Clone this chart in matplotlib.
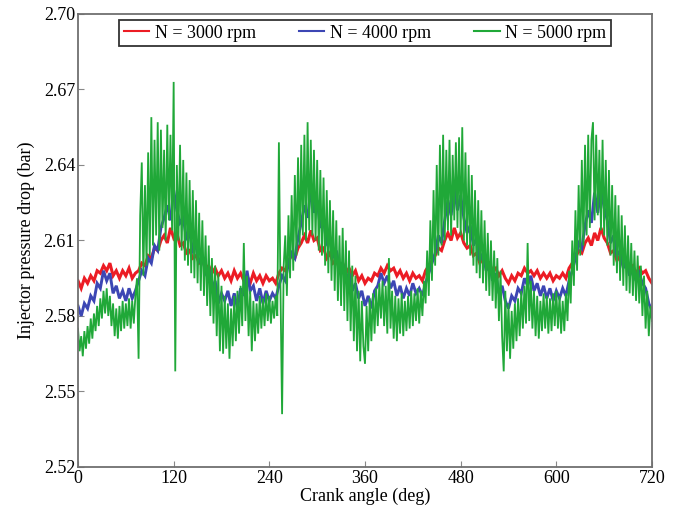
import numpy as np
import matplotlib
matplotlib.use("Agg")
import matplotlib.pyplot as plt

# ---------------------------
# data
# 3000 / 4000 rpm: every 4 deg, 5000 rpm: every 2 deg (much noisier trace)
# ---------------------------
p_3000 = [
    2.594, 2.591, 2.595, 2.593, 2.596, 2.594, 2.598, 2.597, 2.600, 2.598,
    2.601, 2.596, 2.598, 2.595, 2.598, 2.596, 2.599, 2.595, 2.597,
    2.598, 2.601, 2.600, 2.604, 2.603, 2.607, 2.606, 2.610, 2.612,
    2.609, 2.615, 2.611, 2.613,
    2.608, 2.609, 2.605, 2.606, 2.603, 2.604, 2.601, 2.602, 2.599, 2.600,
    2.597, 2.599, 2.596, 2.598,
    2.595, 2.597, 2.594, 2.598, 2.595, 2.597, 2.594, 2.596, 2.593, 2.597,
    2.594, 2.596, 2.593, 2.596, 2.594, 2.595, 2.593,
    2.597, 2.599, 2.598, 2.602, 2.604, 2.603, 2.607, 2.609,
    2.612, 2.609, 2.614, 2.610, 2.611,
    2.606, 2.607, 2.603, 2.605, 2.601, 2.602, 2.599, 2.601, 2.597, 2.599,
    2.596, 2.598,
    2.594, 2.596, 2.593, 2.595, 2.594, 2.597, 2.596, 2.599, 2.597, 2.600,
    2.598, 2.599, 2.596, 2.598, 2.595, 2.597, 2.594, 2.597, 2.595, 2.596,
    2.594,
    2.598, 2.600, 2.602, 2.604, 2.607, 2.606, 2.610,
    2.613, 2.610, 2.615, 2.611, 2.613, 2.609,
    2.607, 2.608, 2.604, 2.605, 2.601, 2.603, 2.600, 2.601, 2.598, 2.599,
    2.596, 2.598, 2.595,
    2.593, 2.596, 2.594, 2.597, 2.596, 2.599, 2.597, 2.598, 2.596, 2.598,
    2.595, 2.597, 2.595, 2.597, 2.594, 2.596, 2.595, 2.597, 2.595,
    2.599, 2.601, 2.603, 2.606, 2.605, 2.609,
    2.611, 2.608, 2.613, 2.610, 2.615, 2.611, 2.609,
    2.605, 2.606, 2.602, 2.604, 2.600, 2.601, 2.599, 2.600, 2.597, 2.599,
    2.597, 2.598, 2.595, 2.593,
]

p_4000 = [
    2.584, 2.580, 2.585, 2.583, 2.588, 2.586, 2.593, 2.591, 2.598, 2.594,
    2.597, 2.589, 2.592, 2.587, 2.590, 2.586, 2.591, 2.587, 2.590,
    2.594, 2.598, 2.596, 2.603, 2.601, 2.608, 2.606, 2.615, 2.619,
    2.624, 2.618, 2.630, 2.622,
    2.617, 2.619, 2.611, 2.613, 2.606, 2.608, 2.601, 2.604, 2.597, 2.599,
    2.590, 2.594, 2.585, 2.589,
    2.586, 2.590, 2.584, 2.589, 2.583, 2.591, 2.588, 2.598, 2.590, 2.592,
    2.586, 2.591, 2.585, 2.590, 2.586, 2.589, 2.587,
    2.592, 2.596, 2.594, 2.601, 2.605, 2.603, 2.611, 2.617,
    2.624, 2.619, 2.630, 2.621, 2.626,
    2.615, 2.618, 2.609, 2.611, 2.603, 2.606, 2.599, 2.601, 2.594, 2.597,
    2.590, 2.593,
    2.587, 2.590, 2.584, 2.588, 2.583, 2.590, 2.592, 2.597, 2.593, 2.596,
    2.591, 2.594, 2.588, 2.592, 2.587, 2.591, 2.588, 2.593, 2.589, 2.591,
    2.588,
    2.593, 2.597, 2.601, 2.605, 2.612, 2.609, 2.618,
    2.626, 2.620, 2.631, 2.622, 2.628, 2.619,
    2.613, 2.616, 2.608, 2.611, 2.602, 2.605, 2.598, 2.601, 2.594, 2.597,
    2.589, 2.592, 2.586,
    2.583, 2.588, 2.586, 2.591, 2.589, 2.595, 2.592, 2.596, 2.590, 2.593,
    2.588, 2.592, 2.587, 2.591, 2.586, 2.590, 2.587, 2.591, 2.588,
    2.594, 2.598, 2.603, 2.609, 2.607, 2.616,
    2.622, 2.617, 2.629, 2.621, 2.631, 2.623, 2.618,
    2.609, 2.612, 2.604, 2.606, 2.599, 2.602, 2.596, 2.599, 2.594, 2.597,
    2.593, 2.591, 2.585, 2.582,
]

p_5000 = [
    # 0 - 72
    2.575, 2.566, 2.572, 2.564, 2.574, 2.567, 2.576, 2.569, 2.579, 2.571,
    2.581, 2.574, 2.584, 2.576, 2.587, 2.579, 2.590, 2.581, 2.591, 2.580,
    2.588, 2.576, 2.585, 2.572, 2.583, 2.571, 2.584, 2.574, 2.586, 2.575,
    2.585, 2.576, 2.587, 2.575, 2.586, 2.577, 2.588,
    # 74 - 134
    2.595, 2.563, 2.620, 2.641, 2.596, 2.632, 2.600, 2.645, 2.604, 2.659,
    2.608, 2.650, 2.612, 2.657, 2.606, 2.654, 2.615, 2.646, 2.610, 2.656,
    2.618, 2.652, 2.614, 2.673, 2.558, 2.640, 2.610, 2.648, 2.606, 2.642,
    2.602,
    # 136 - 182
    2.637, 2.600, 2.634, 2.597, 2.630, 2.595, 2.626, 2.593, 2.621, 2.590,
    2.618, 2.588, 2.612, 2.584, 2.608, 2.580, 2.603, 2.577, 2.600, 2.572,
    2.597, 2.566, 2.592, 2.565,
    # 184 - 250
    2.588, 2.567, 2.585, 2.563, 2.583, 2.568, 2.588, 2.570, 2.590, 2.573,
    2.592, 2.576, 2.609, 2.578, 2.596, 2.572, 2.590, 2.566, 2.586, 2.570,
    2.585, 2.573, 2.588, 2.575, 2.587, 2.576, 2.589, 2.578, 2.588, 2.577,
    2.586, 2.579, 2.588, 2.580,
    # 252 - 308
    2.649, 2.590, 2.541, 2.600, 2.612, 2.588, 2.620, 2.595, 2.628, 2.598,
    2.636, 2.604, 2.643, 2.608, 2.648, 2.612, 2.652, 2.610, 2.657, 2.614,
    2.650, 2.612, 2.646, 2.610, 2.642, 2.606, 2.638, 2.604, 2.635,
    # 310 - 356
    2.600, 2.630, 2.597, 2.626, 2.594, 2.622, 2.590, 2.618, 2.586, 2.612,
    2.584, 2.615, 2.582, 2.610, 2.578, 2.606, 2.574, 2.600, 2.570, 2.596,
    2.566, 2.590, 2.562, 2.586,
    # 358 - 434
    2.568, 2.561, 2.584, 2.566, 2.587, 2.570, 2.589, 2.573, 2.591, 2.576,
    2.593, 2.579, 2.594, 2.576, 2.592, 2.573, 2.603, 2.575, 2.590, 2.571,
    2.588, 2.570, 2.587, 2.573, 2.589, 2.572, 2.586, 2.574, 2.588, 2.575,
    2.590, 2.576, 2.589, 2.578, 2.591, 2.577, 2.590, 2.580, 2.594,
    # 436 - 490
    2.585, 2.606, 2.588, 2.618, 2.594, 2.630, 2.600, 2.640, 2.604, 2.648,
    2.608, 2.652, 2.610, 2.646, 2.614, 2.650, 2.612, 2.644, 2.618, 2.649,
    2.615, 2.651, 2.612, 2.655, 2.610, 2.645, 2.608, 2.640,
    # 492 - 540
    2.604, 2.636, 2.600, 2.630, 2.597, 2.626, 2.595, 2.622, 2.593, 2.618,
    2.590, 2.613, 2.588, 2.610, 2.586, 2.606, 2.583, 2.603, 2.578, 2.598,
    2.572, 2.558, 2.590, 2.566, 2.585,
    # 542 - 614
    2.563, 2.582, 2.567, 2.585, 2.570, 2.587, 2.572, 2.590, 2.575, 2.592,
    2.577, 2.609, 2.578, 2.594, 2.575, 2.590, 2.572, 2.588, 2.571, 2.586,
    2.574, 2.589, 2.575, 2.588, 2.573, 2.587, 2.574, 2.589, 2.576, 2.590,
    2.575, 2.588, 2.573, 2.586, 2.574, 2.589, 2.578,
    # 616 - 668
    2.598, 2.585, 2.610, 2.592, 2.622, 2.598, 2.632, 2.604, 2.642, 2.608,
    2.648, 2.612, 2.652, 2.615, 2.650, 2.657, 2.618, 2.652, 2.620, 2.646,
    2.614, 2.650, 2.612, 2.642, 2.608, 2.638, 2.604,
    # 670 - 720
    2.632, 2.600, 2.628, 2.597, 2.624, 2.594, 2.620, 2.592, 2.616, 2.590,
    2.612, 2.589, 2.609, 2.588, 2.606, 2.586, 2.604, 2.585, 2.600, 2.580,
    2.596, 2.575, 2.590, 2.572, 2.584, 2.578,
]

labels = ["N = 3000 rpm", "N = 4000 rpm", "N = 5000 rpm"]
colors = ["#ec1c24", "#3c46b4", "#20a838"]
widths = [2.2, 2.1, 1.3]

x_ticks = [0, 120, 240, 360, 480, 600, 720]
y_ticks = [2.52, 2.55, 2.58, 2.61, 2.64, 2.67, 2.70]

# ---------------------------
# plot
# ---------------------------
plt.rcParams['font.family'] = ['Liberation Serif', 'DejaVu Serif']

fig = plt.figure(figsize=(6.83, 5.12), dpi=100)
ax = fig.add_axes([0.1142, 0.0879, 0.8404, 0.8848])

for vals, lab, col, lw in zip([p_3000, p_4000, p_5000], labels, colors, widths):
    angle = np.linspace(0, 720, len(vals))
    ax.plot(angle, vals, color=col, lw=lw, label=lab, solid_joinstyle='miter')

ax.set_xlim(0, 720)
ax.set_ylim(2.52, 2.70)
ax.set_xticks(x_ticks)
ax.set_yticks(y_ticks)
ax.set_yticklabels([f"{v:.2f}" for v in y_ticks])
ax.tick_params(direction='in', length=4, width=0.8, color='#888888',
               labelsize=13, pad=2, top=False, right=False)
for s in ax.spines.values():
    s.set_color('#707070'); s.set_linewidth(1.3)

ax.set_xlabel('Crank angle (deg)', fontsize=13, labelpad=1)
ax.set_ylabel('Injector pressure drop (bar)', fontsize=13, labelpad=6)

leg = ax.legend(loc='upper center', bbox_to_anchor=(0.5, 1.0), ncol=3,
                fontsize=13, frameon=True, fancybox=False, borderaxespad=0.35,
                handlelength=1.4, handletextpad=0.3, columnspacing=2.4,
                borderpad=0.25)
leg.get_frame().set_edgecolor('black')
leg.get_frame().set_linewidth(1.3)
for h in leg.get_lines():
    h.set_linewidth(1.5)

fig.savefig('out.png', dpi=100)
